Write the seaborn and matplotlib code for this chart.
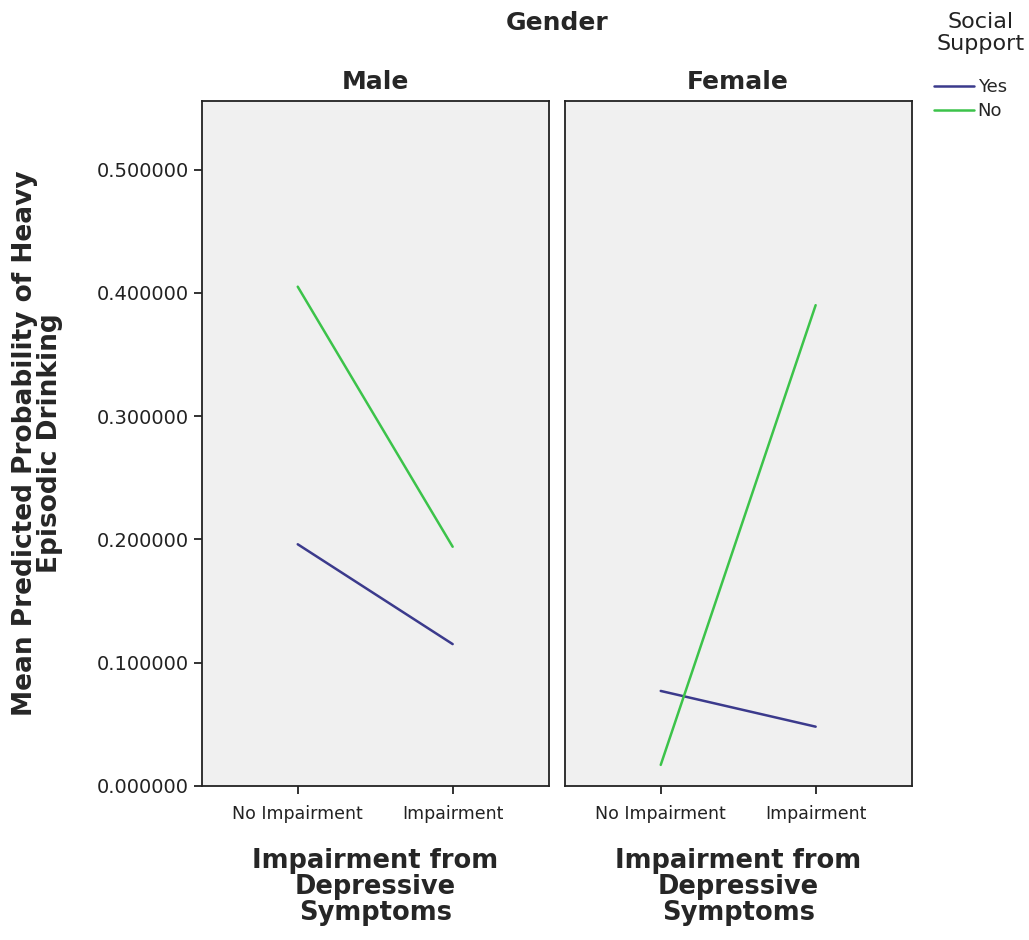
import pandas as pd
import matplotlib.pyplot as plt
import seaborn as sns
from matplotlib.ticker import FormatStrFormatter
from matplotlib.lines import Line2D

# values
genders = ["Male", "Female"]
impairment = ["No Impairment", "Impairment"]
support = ["Yes", "No"]
male_yes = [0.196, 0.115]
male_no = [0.405, 0.194]
female_yes = [0.077, 0.048]
female_no = [0.017, 0.390]

colors = {"Yes": "#3b3a8c", "No": "#3cc34a"}

rows = []
for g, yes_vals, no_vals in [("Male", male_yes, male_no), ("Female", female_yes, female_no)]:
    for i, imp in enumerate(impairment):
        rows.append({"Gender": g, "Impairment": i, "Support": "Yes", "Prob": yes_vals[i]})
        rows.append({"Gender": g, "Impairment": i, "Support": "No", "Prob": no_vals[i]})
df = pd.DataFrame(rows)

sns.set_style("white")
plt.rcParams['font.family'] = ['DejaVu Sans']

fig, axes = plt.subplots(1, 2, figsize=(10.29, 9.4), dpi=100, sharey=True)
fig.subplots_adjust(left=0.196, right=0.886, top=0.893, bottom=0.164, wspace=0.046)

for ax, g in zip(axes, genders):
    sub = df[df['Gender'] == g]
    sns.lineplot(data=sub, x='Impairment', y='Prob', hue='Support', hue_order=support,
                 palette=colors, linewidth=1.8, legend=False, ax=ax)
    ax.set_facecolor('#f0f0f0')
    for s in ax.spines.values():
        s.set_color('#222222')
        s.set_linewidth(1.3)
    ax.set_xlim(-0.62, 1.62)
    ax.set_ylim(0, 0.556)
    ax.set_xticks([0, 1])
    ax.set_xticklabels(impairment, fontsize=12.5, color='#222222')
    ax.set_title(g, fontsize=18, fontweight='bold', pad=8)
    ax.set_xlabel("Impairment from\nDepressive\nSymptoms", fontsize=18.5, fontweight='bold',
                  linespacing=1.0, labelpad=18)
    ax.set_ylabel("")
    ax.tick_params(axis='x', direction='out', length=6, width=1.3, color='#222222', bottom=True,
                   pad=8)

axes[0].set_yticks([0, 0.1, 0.2, 0.3, 0.4, 0.5])
axes[0].yaxis.set_major_formatter(FormatStrFormatter('%.6f'))
axes[0].tick_params(axis='y', direction='out', length=6, width=1.3, color='#222222', left=True,
                    labelsize=14, labelcolor='#222222', pad=3)
axes[1].tick_params(axis='y', left=False)
axes[0].set_ylabel("Mean Predicted Probability of Heavy\nEpisodic Drinking", fontsize=19,
                   fontweight='bold', linespacing=0.95)
axes[0].yaxis.set_label_coords(-0.40, 0.5)

fig.text(0.541, 0.976, "Gender", ha='center', va='center', fontsize=18, fontweight='bold')

# legend title drawn separately so it can be centred like the original
fig.text(0.953, 0.965, "Social\nSupport", ha='center', va='center', fontsize=16,
         color='#222222', linespacing=1.1)
handles = [Line2D([0], [0], color=colors[s], linewidth=1.8) for s in support]
fig.legend(handles, support, loc='upper left', bbox_to_anchor=(0.908, 0.917), frameon=False,
           fontsize=13, handlelength=2.2, handletextpad=0.2, labelspacing=0.35,
           borderaxespad=0, borderpad=0)

plt.savefig("out.png", dpi=100)
